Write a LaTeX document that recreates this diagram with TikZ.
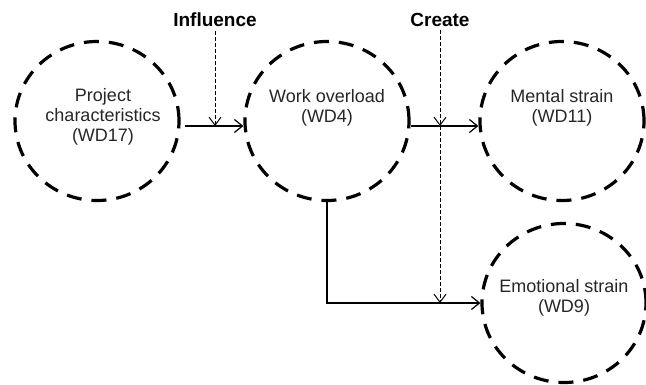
\documentclass[tikz,border=0pt]{standalone}
\usepackage{fontspec}
\setmainfont{Liberation Sans}
\usetikzlibrary{shapes.geometric, arrows.meta, positioning}
\tikzset{
    factor/.style = {ellipse, draw=black, line width=3.2pt, dash pattern=on 15pt off 10pt, minimum width=164pt, minimum height=159pt},
    caption/.style = {align=center, text=black!85, font=\fontsize{18pt}{20pt}\selectfont},
    cue/.style = {font=\fontsize{19pt}{22pt}\selectfont\bfseries},
    arrow/.style = {line width=1.2pt, -{Straight Barb[length=8pt, width=13pt]}},
    effect/.style = {line width=1pt, dash pattern=on 4pt off 2pt, -{Straight Barb[length=8pt, width=12pt]}}
}
\begin{document}
\begin{tikzpicture}[x=1pt, y=1pt, node distance=230pt]
\useasboundingbox (0,0) rectangle (646,-385);

\node (proj) [factor] at (97,-121) {};
\node (work) [factor, right of=proj] {};
\node (ment) [factor, right of=work, node distance=235pt] {};
\node (emo) [factor, below of=ment, node distance=182pt, xshift=2pt] {};

\node (projtxt) [caption] at ([xshift=6pt, yshift=4pt]proj) {Project\\characteristics\\(WD17)};
\node (worktxt) [caption] at ([yshift=13pt]work) {Work overload\\(WD4)};
\node (menttxt) [caption] at ([yshift=13pt]ment) {Mental strain\\(WD11)};
\node (emotxt) [caption] at ([yshift=5pt]emo) {Emotional strain\\(WD9)};

\node (infl) [cue] at (215,-20) {Influence};
\node (crt) [cue] at (440,-20) {Create};

\coordinate (lineA) at ([yshift=-5pt]work.west);
\coordinate (lineB) at ([yshift=-5pt]ment.west);

\draw [arrow] ([xshift=4pt, yshift=-5pt]proj.east) -- (lineA);
\draw [arrow] ([yshift=-5pt]work.east) -- (lineB);
\draw [arrow] (work.south) |- (emo.west);
\draw [effect] (infl.south) -- (infl.south |- lineA);
\draw [effect] (crt.south) -- (crt.south |- lineB);
\draw [effect] (crt.south) -- (crt.south |- emo.west);
\end{tikzpicture}
\end{document}
